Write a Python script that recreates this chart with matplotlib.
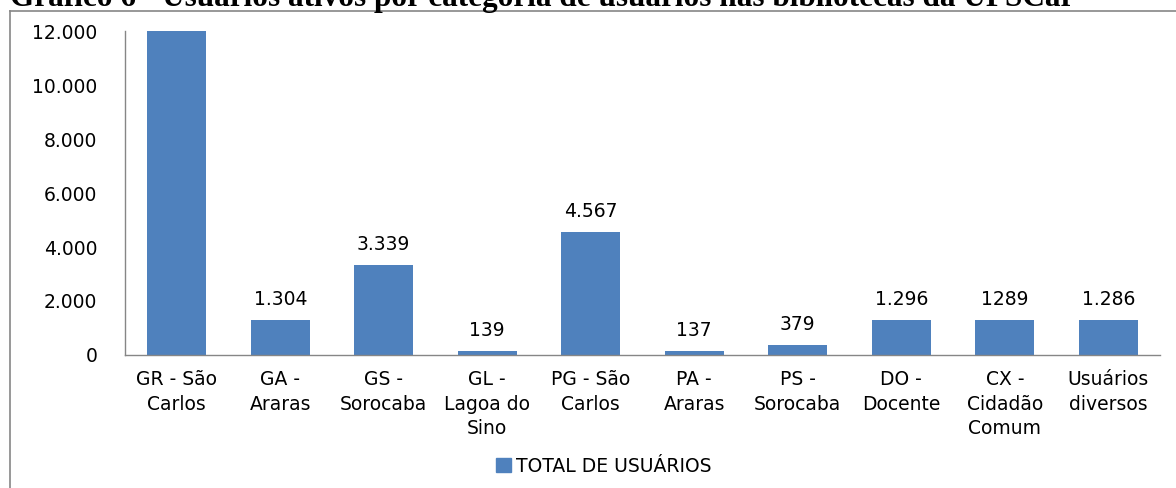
import matplotlib
matplotlib.use('Agg')
import matplotlib.pyplot as plt
import matplotlib.patches as mpatches
from matplotlib.ticker import FuncFormatter

# data (first bar is clipped at the axis top)
categorias = ['GR - São\nCarlos', 'GA -\nAraras', 'GS -\nSorocaba', 'GL -\nLagoa do\nSino',
              'PG - São\nCarlos', 'PA -\nAraras', 'PS -\nSorocaba', 'DO -\nDocente',
              'CX -\nCidadão\nComum', 'Usuários\ndiversos']
total_usuarios = [12500, 1304, 3339, 139, 4567, 137, 379, 1296, 1289, 1286]
rotulos = [None, '1.304', '3.339', '139', '4.567', '137', '379', '1.296', '1289', '1.286']
yticks = [0, 2000, 4000, 6000, 8000, 10000, 12000]

titulo = 'Gráfico 6 - Usuários ativos por categoria de usuários nas bibliotecas da UFSCar'

W, H = 1176, 488
fs = 13.5
fig = plt.figure(figsize=(W / 100, H / 100), dpi=100)

# chart frame (left and top edges visible)
fig.add_artist(plt.Line2D([10 / W, 10 / W], [0, 1 - 11 / H], color='#868686', lw=1.2,
                          transform=fig.transFigure))
fig.add_artist(plt.Line2D([10 / W, 1], [1 - 11 / H, 1 - 11 / H], color='#868686', lw=1.2,
                          transform=fig.transFigure))

# title, mostly cut off at the top of the picture
fig.text(10 / W, 1 - 6 / H, titulo, family='Liberation Serif', weight='bold',
         fontsize=22.5, ha='left', va='baseline')

ax = fig.add_axes([125 / W, (H - 355) / H, (1160 - 125) / W, (355 - 31) / H])
x = range(len(categorias))
bars = ax.bar(x, total_usuarios, width=0.57, color='#4F81BD', label='TOTAL DE USUÁRIOS',
              zorder=2)

ax.set_ylim(0, 12000)
ax.set_xlim(-0.5, len(categorias) - 0.5)
ax.set_yticks(yticks)
ax.yaxis.set_major_formatter(FuncFormatter(lambda v, p: '{:,.0f}'.format(v).replace(',', '.')))
ax.set_xticks(list(x))
ax.set_xticklabels(categorias, linespacing=1.35)
ax.tick_params(axis='both', length=0, labelsize=fs, colors='#000000')
ax.tick_params(axis='y', pad=20)
ax.tick_params(axis='x', pad=11)

for s in ['top', 'right']:
    ax.spines[s].set_visible(False)
for s in ['left', 'bottom']:
    ax.spines[s].set_color('#868686')
    ax.spines[s].set_linewidth(1.0)

for b, lab in zip(bars, rotulos):
    if lab is None:
        continue
    ax.annotate(lab, (b.get_x() + b.get_width() / 2, b.get_height()),
                xytext=(0, 8), textcoords='offset points', ha='center', va='bottom',
                fontsize=fs)

leg = fig.legend(handles=[mpatches.Patch(color='#4F81BD', label='TOTAL DE USUÁRIOS')],
                 loc='center', bbox_to_anchor=(604 / W, 1 - 466 / H), frameon=False,
                 fontsize=fs, handlelength=0.8, handleheight=0.8, handletextpad=0.25)

fig.savefig('out.png', dpi=100)
